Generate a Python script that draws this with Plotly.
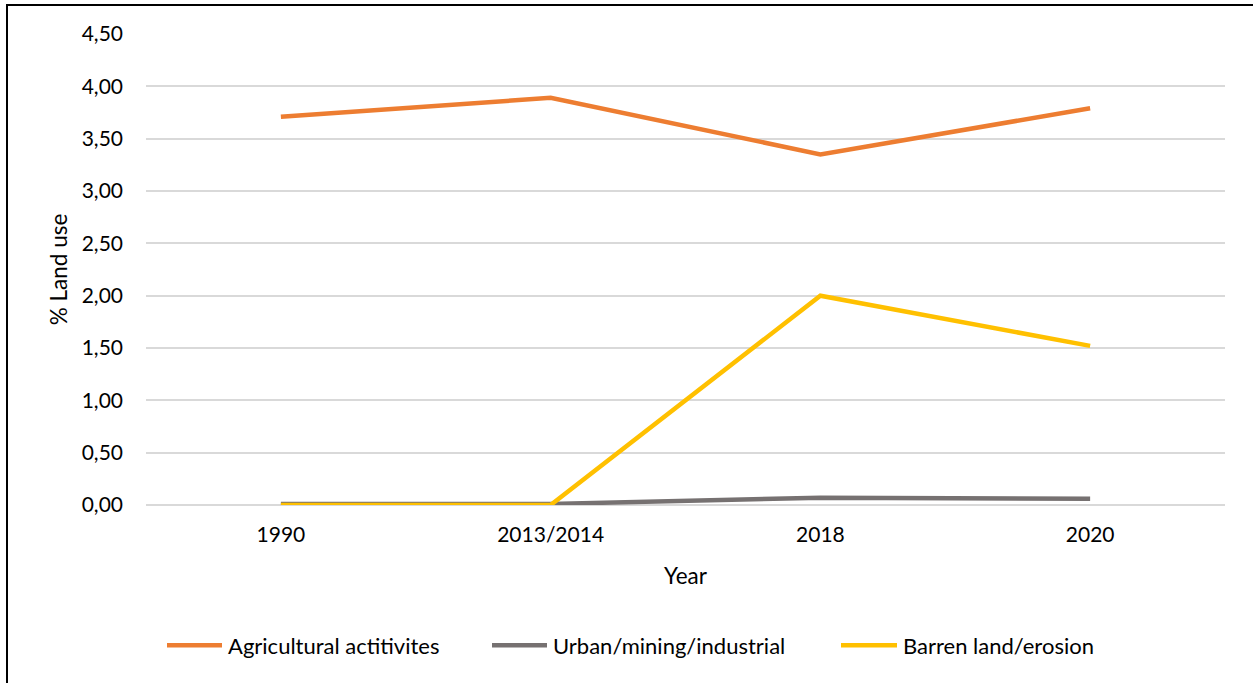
import plotly.graph_objects as go

years = ["1990", "2013/2014", "2018", "2020"]
series_names = ["Agricultural actitivites", "Urban/mining/industrial", "Barren land/erosion"]
agricultural = [3.71, 3.89, 3.35, 3.79]
urban = [0.01, 0.01, 0.07, 0.06]
barren = [0.0, 0.0, 2.00, 1.52]
y_ticks = [0, 0.5, 1.0, 1.5, 2.0, 2.5, 3.0, 3.5, 4.0, 4.5]
colors = ["#ED7D31", "#767171", "#FFC000"]

FONT = "Lato"
L, R, T, B = 146, 28, 34, 177.5
W, H = 1253, 683
PW = W - L - R
PH = H - T - B


def px_x(px):
    return (px - L) / PW


def px_y(py):
    return (H - B - py) / PH


fig = go.Figure()
for name, vals, col in zip(series_names, [agricultural, urban, barren], colors):
    fig.add_trace(go.Scatter(x=years, y=vals, mode="lines", name=name,
                             line=dict(color=col, width=4.5), showlegend=False))

# custom legend (Excel style: long line samples)
legend_y = px_y(646)
sample_x = [(167, 222), (492, 547), (841, 897)]
shapes = [dict(type="rect", xref="paper", yref="paper",
               x0=px_x(7), x1=1.2, y0=-0.6, y1=px_y(5),
               line=dict(color="black", width=2), fillcolor="rgba(0,0,0,0)", layer="below")]
annotations = []
for (a, b), name, col in zip(sample_x, series_names, colors):
    shapes.append(dict(type="line", xref="paper", yref="paper",
                       x0=px_x(a), x1=px_x(b), y0=legend_y, y1=legend_y,
                       line=dict(color=col, width=4.5)))
    annotations.append(dict(text=name, xref="paper", yref="paper", x=px_x(b + 4), y=legend_y,
                            xanchor="left", yanchor="middle", showarrow=False,
                            font=dict(family=FONT, size=22, color="#000000")))

fig.update_layout(
    width=W, height=H,
    margin=dict(l=L, r=R, t=T, b=B),
    paper_bgcolor="white", plot_bgcolor="white",
    separators=",.",
    font=dict(family=FONT, size=21, color="#000000"),
    showlegend=False,
    xaxis=dict(type="category", range=[-0.5, 3.5], showgrid=False, showline=False, zeroline=False,
               ticks="", ticklabelstandoff=15,
               title=dict(text="Year", font=dict(family=FONT, size=22.5), standoff=23)),
    yaxis=dict(range=[0, 4.5], tickvals=y_ticks, tickformat=".2f",
               showgrid=True, gridcolor="#D9D9D9", gridwidth=1.5,
               zeroline=True, zerolinecolor="#D9D9D9", zerolinewidth=1.5,
               showline=False, ticks="", ticklabelstandoff=22,
               title=dict(text="% Land use", font=dict(family=FONT, size=22.5), standoff=7)),
    shapes=shapes,
    annotations=annotations,
)

fig.write_html("out.html")
